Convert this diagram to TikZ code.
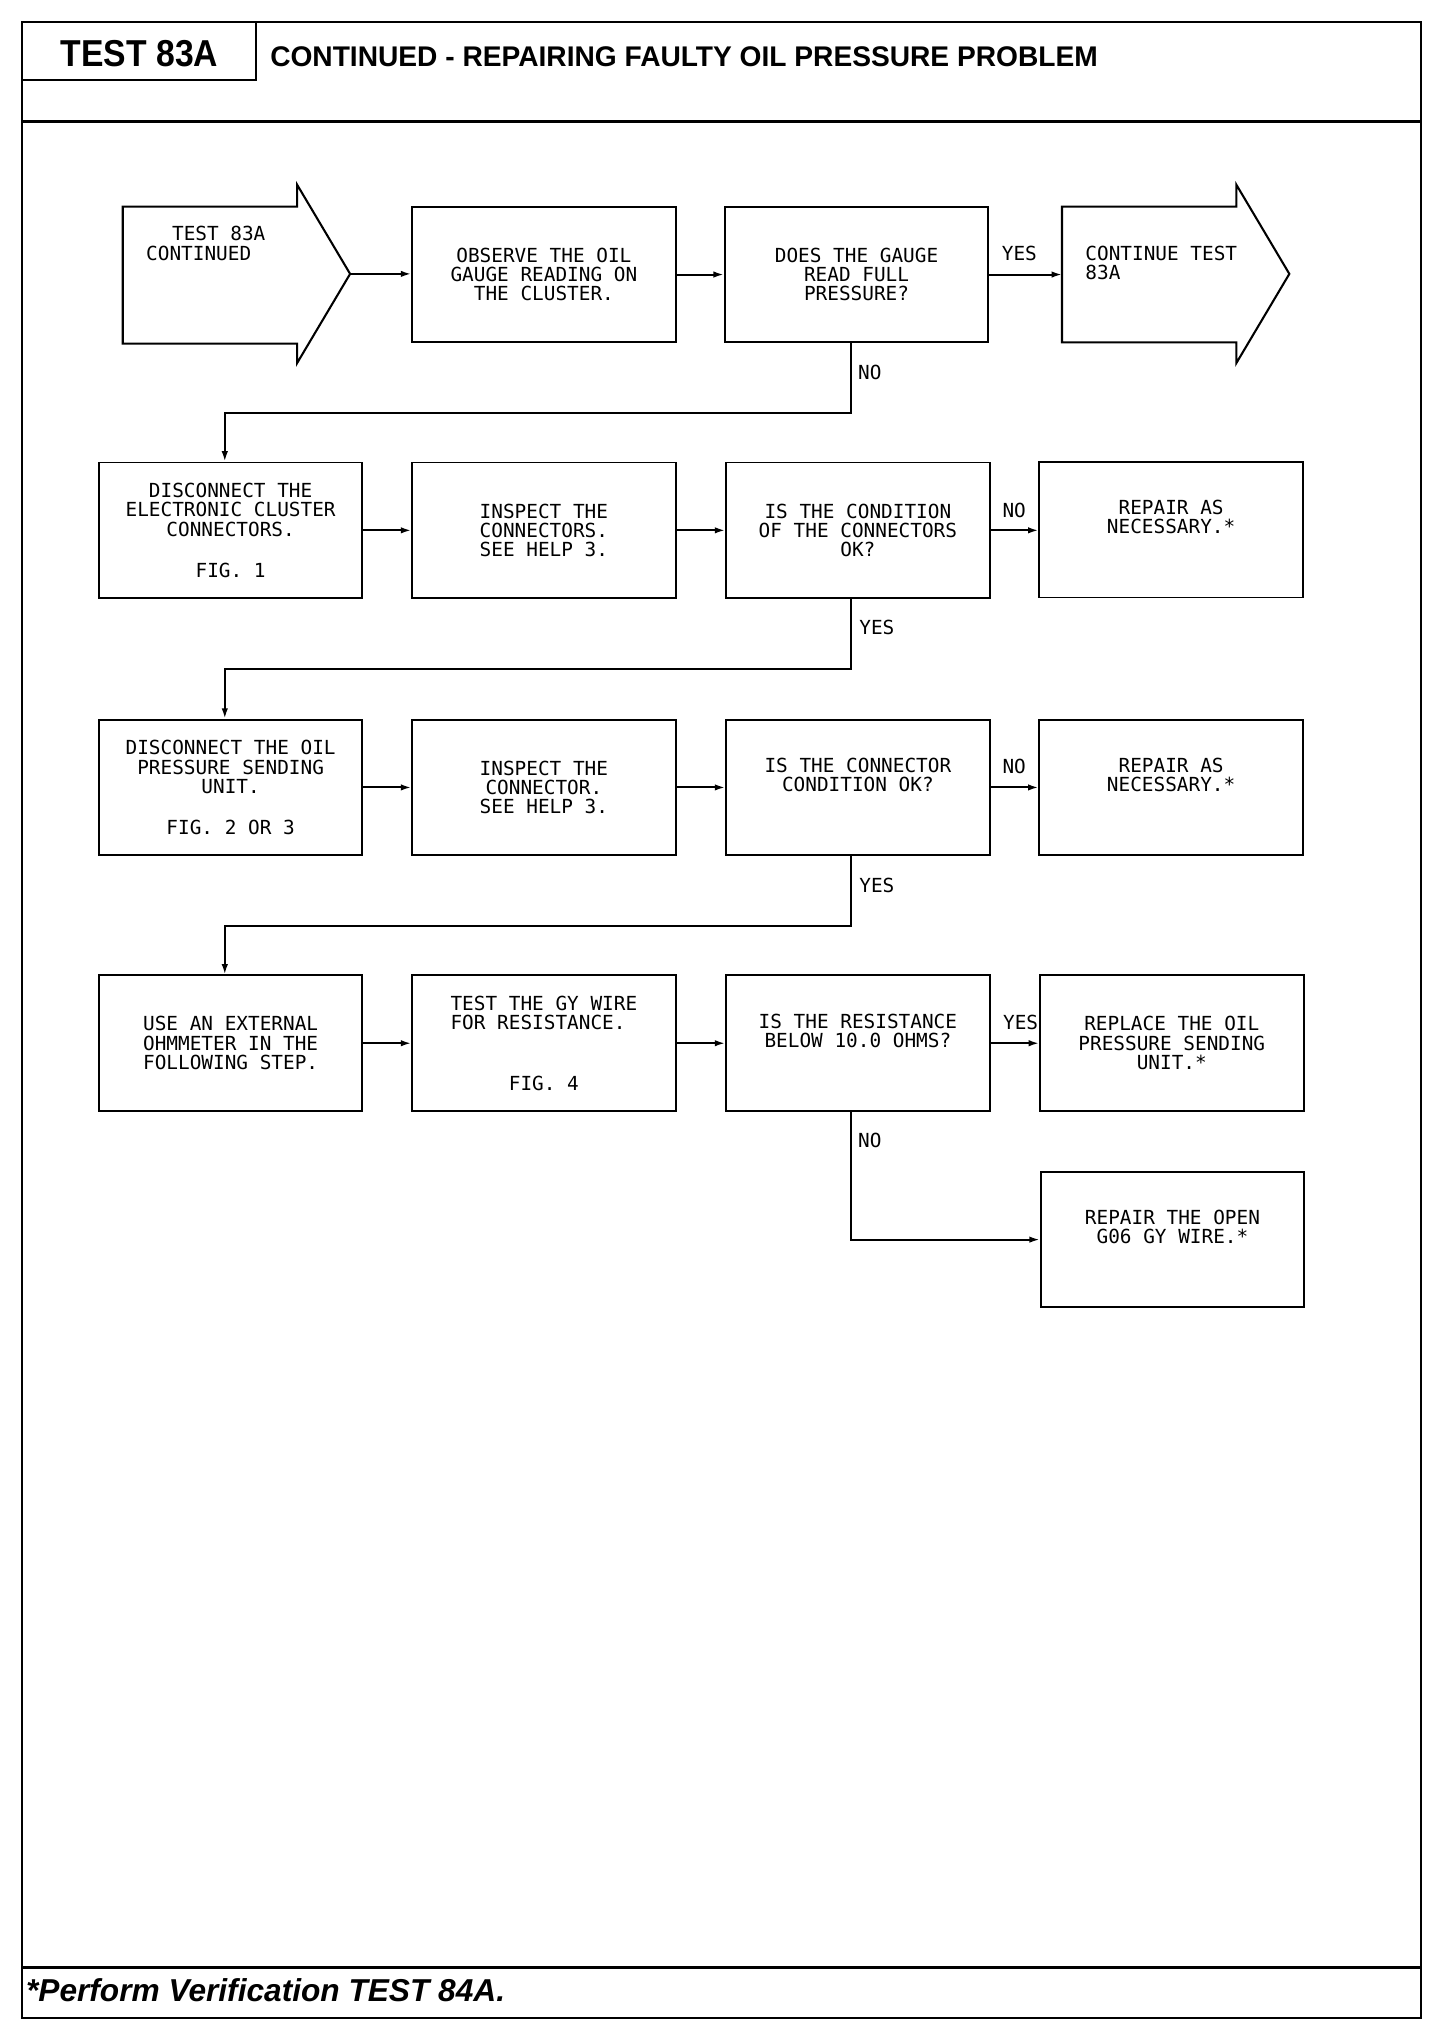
\documentclass[tikz,border=0pt]{standalone}
\usepackage{graphicx}
\usepackage{fontspec}
\setmainfont{Liberation Sans}
\newfontfamily\plotfont{DejaVu Sans Mono}
\usetikzlibrary{arrows.meta}
\begin{document}
\begin{tikzpicture}[x=1pt,y=-1pt,
  plot/.style={font=\plotfont\fontsize{15}{15}\selectfont,inner sep=0pt},
  box/.style={plot,draw,line width=1.5pt,minimum width=204pt,minimum height=105pt,align=center},
  lbl/.style={plot,anchor=base},
  conn/.style={line width=1.5pt,-{Latex[length=8pt,width=5pt]}},
  bigarrow/.style={draw,line width=1.6pt,line join=miter}]
\useasboundingbox (0,0) rectangle (1127,1571.3);
% frame
\draw[line width=2pt] (17,17) rectangle (1100,1562);
\draw[line width=2.6pt] (17,94) -- (1100,94);
\draw[line width=2pt] (17,1523) -- (1100,1523);
\draw[line width=1.2pt] (198,17) -- (198,62) -- (17,62);
\node[inner sep=0pt] (hdrtest) at (108,41.5) {\bfseries\fontsize{29}{29}\selectfont\scalebox{0.9}[1]{TEST 83A}};
\node[inner sep=0pt,anchor=west] (hdrtitle) at (209,44) {\bfseries\fontsize{22}{22}\selectfont\scalebox{0.99}[1]{CONTINUED - REPAIRING FAULTY OIL PRESSURE PROBLEM}};
\node[inner sep=0pt,anchor=base west] (footer) at (20,1549) {\bfseries\itshape\fontsize{24.5}{24.5}\selectfont *Perform Verification TEST 84A.};
% big arrows
\draw[bigarrow] (95,160) -- (230,160) -- (230,143) -- (271,212) -- (230,281) -- (230,266) -- (95,266) -- cycle;
\coordinate (a1tip) at (271,212);
\node[plot,align=left,anchor=base west] (a1txt) at (113,201.5) {\hspace*{20pt}TEST 83A\\CONTINUED};
\draw[bigarrow] (822,160) -- (957,160) -- (957,143) -- (998,212) -- (957,281) -- (957,265) -- (822,265) -- cycle;
\coordinate (d1in) at (822,212.5);
\node[plot,align=left,anchor=base west] (d1txt) at (840,216.5) {CONTINUE TEST\\83A};
% row 1
\node[box] (b1) at (421,212.5) {OBSERVE THE OIL\\GAUGE READING ON\\THE CLUSTER.};
\node[box] (c1) at (663,212.5) {DOES THE GAUGE\\READ FULL\\PRESSURE?};
% row 2
\node[box] (e2) at (178.5,410.5) {DISCONNECT THE\\ELECTRONIC CLUSTER\\CONNECTORS.\\\strut\\FIG. 1};
\node[box] (f2) at (421,410.5) {INSPECT THE\\CONNECTORS.\\SEE HELP 3.};
\node[box] (g2) at (664,410.5) {IS THE CONDITION\\OF THE CONNECTORS\\OK?};
\node[box] (h2) at (906.5,410) {REPAIR AS\\NECESSARY.*\\\strut};
% row 3
\node[box] (i3) at (178.5,609.5) {DISCONNECT THE OIL\\PRESSURE SENDING\\UNIT.\\\strut\\FIG. 2 OR 3};
\node[box] (j3) at (421,609.5) {INSPECT THE\\CONNECTOR.\\SEE HELP 3.};
\node[box] (k3) at (664,609.5) {IS THE CONNECTOR\\CONDITION OK?\\\strut};
\node[box] (l3) at (906.5,609.5) {REPAIR AS\\NECESSARY.*\\\strut};
% row 4
\node[box] (m4) at (178.5,807.5) {USE AN EXTERNAL\\OHMMETER IN THE\\FOLLOWING STEP.};
\node[box] (n4) at (421,807.5) {TEST THE GY WIRE\\FOR RESISTANCE.\phantom{X}\\\strut\\\strut\\FIG. 4};
\node[box] (o4) at (664,807.5) {IS THE RESISTANCE\\BELOW 10.0 OHMS?\\\strut};
\node[box] (p4) at (907,807.5) {REPLACE THE OIL\\PRESSURE SENDING\\UNIT.*};
\node[box] (q5) at (907.5,959.5) {REPAIR THE OPEN\\G06 GY WIRE.*\\\strut};
% connectors row 1
\draw[conn] (a1tip) -- (a1tip -| b1.west);
\draw[conn] (b1.east) -- (c1.west);
\draw[conn] (c1.east) -- (d1in);
\node[lbl] (yes1) at (789,201.5) {YES};
\draw[conn] ([xshift=-4pt]c1.south) -- ++(0,54) -| ([xshift=-4.5pt]e2.north);
\node[lbl,anchor=base west] (no1) at (664,293.5) {NO};
% row 2
\draw[conn] (e2.east) -- (f2.west);
\draw[conn] (f2.east) -- (g2.west);
\draw[conn] (g2.east) -- (g2.east -| h2.west);
\node[lbl] (no2) at (785,400.5) {NO};
\draw[conn] ([xshift=-5pt]g2.south) -- ++(0,54) -| ([xshift=-4.5pt]i3.north);
\node[lbl,anchor=base west] (yes2) at (665,491.5) {YES};
% row 3
\draw[conn] (i3.east) -- (j3.west);
\draw[conn] (j3.east) -- (k3.west);
\draw[conn] (k3.east) -- (l3.west);
\node[lbl] (no3) at (785,598.5) {NO};
\draw[conn] ([xshift=-5pt]k3.south) -- ++(0,54) -| ([xshift=-4.5pt]m4.north);
\node[lbl,anchor=base west] (yes3) at (665,690.5) {YES};
% row 4
\draw[conn] (m4.east) -- (n4.west);
\draw[conn] (n4.east) -- (o4.west);
\draw[conn] (o4.east) -- (p4.west);
\node[lbl] (yes4) at (790,796.5) {YES};
\draw[conn] ([xshift=-5pt]o4.south) |- (q5.west);
\node[lbl,anchor=base west] (no4) at (664,888.5) {NO};
\end{tikzpicture}
\end{document}
